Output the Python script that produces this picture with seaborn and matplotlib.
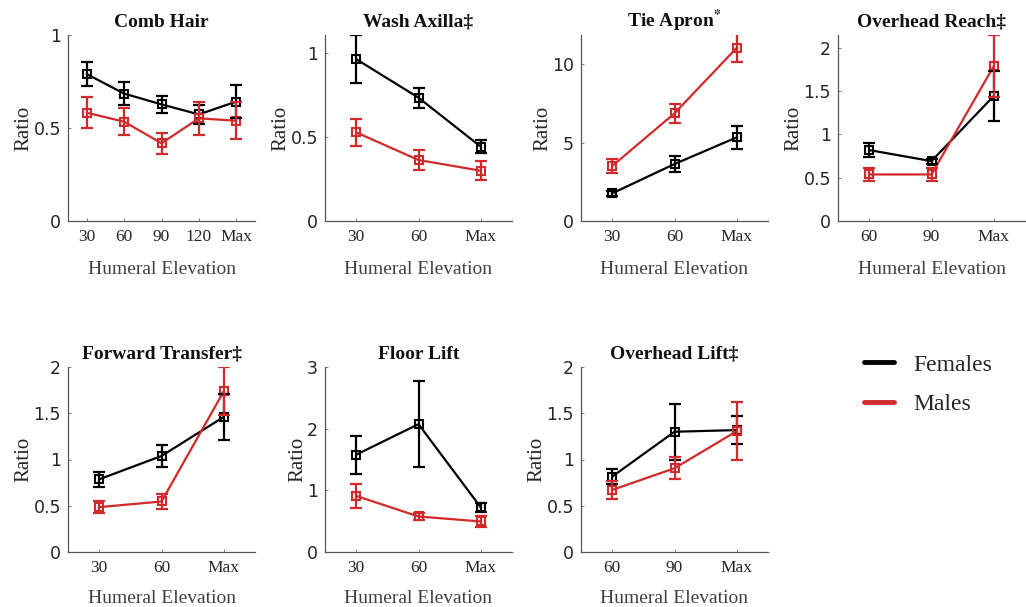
import numpy as np
import pandas as pd
import matplotlib
matplotlib.use("Agg")
import matplotlib.pyplot as plt
import seaborn as sns
from matplotlib.lines import Line2D

# ---------------- data ----------------
titles = ["Comb Hair", "Wash Axilla\u2021", r"Tie Apron$^{\mathbf{*}}$", "Overhead Reach\u2021",
          "Forward Transfer\u2021", "Floor Lift", "Overhead Lift\u2021"]

comb_labels = ["30", "60", "90", "120", "Max"]
comb_f = [0.79, 0.685, 0.627, 0.573, 0.642]
comb_f_err = [0.063, 0.06, 0.047, 0.05, 0.09]
comb_m = [0.582, 0.534, 0.418, 0.552, 0.539]
comb_m_err = [0.083, 0.073, 0.057, 0.09, 0.1]

wash_labels = ["30", "60", "Max"]
wash_f = [0.966, 0.736, 0.443]
wash_f_err = [0.144, 0.06, 0.04]
wash_m = [0.529, 0.364, 0.30]
wash_m_err = [0.08, 0.06, 0.057]

apron_labels = ["30", "60", "Max"]
apron_f = [1.76, 3.63, 5.33]
apron_f_err = [0.15, 0.53, 0.72]
apron_m = [3.50, 6.86, 11.04]
apron_m_err = [0.47, 0.6, 0.88]

oreach_labels = ["60", "90", "Max"]
oreach_f = [0.82, 0.692, 1.446]
oreach_f_err = [0.08, 0.03, 0.29]
oreach_m = [0.538, 0.538, 1.792]
oreach_m_err = [0.08, 0.07, 0.36]

ftrans_labels = ["30", "60", "Max"]
ftrans_f = [0.786, 1.038, 1.461]
ftrans_f_err = [0.08, 0.123, 0.25]
ftrans_m = [0.485, 0.546, 1.738]
ftrans_m_err = [0.062, 0.085, 0.26]

floor_labels = ["30", "60", "Max"]
floor_f = [1.578, 2.073, 0.722]
floor_f_err = [0.31, 0.70, 0.07]
floor_m = [0.91, 0.576, 0.495]
floor_m_err = [0.2, 0.05, 0.085]

olift_labels = ["60", "90", "Max"]
olift_f = [0.815, 1.30, 1.318]
olift_f_err = [0.08, 0.3, 0.15]
olift_m = [0.671, 0.905, 1.307]
olift_m_err = [0.1, 0.12, 0.31]

panels = [
    (comb_labels, comb_f, comb_f_err, comb_m, comb_m_err, 1.0, [0, 0.5, 1], ["0", "0.5", "1"]),
    (wash_labels, wash_f, wash_f_err, wash_m, wash_m_err, 1.11, [0, 0.5, 1], ["0", "0.5", "1"]),
    (apron_labels, apron_f, apron_f_err, apron_m, apron_m_err, 11.85, [0, 5, 10], ["0", "5", "10"]),
    (oreach_labels, oreach_f, oreach_f_err, oreach_m, oreach_m_err, 2.15,
     [0, 0.5, 1, 1.5, 2], ["0", "0.5", "1", "1.5", "2"]),
    (ftrans_labels, ftrans_f, ftrans_f_err, ftrans_m, ftrans_m_err, 2.0,
     [0, 0.5, 1, 1.5, 2], ["0", "0.5", "1", "1.5", "2"]),
    (floor_labels, floor_f, floor_f_err, floor_m, floor_m_err, 3.0, [0, 1, 2, 3], ["0", "1", "2", "3"]),
    (olift_labels, olift_f, olift_f_err, olift_m, olift_m_err, 2.0,
     [0, 0.5, 1, 1.5, 2], ["0", "0.5", "1", "1.5", "2"]),
]

groups = ["Females", "Males"]
colors = {"Females": "#000000", "Males": "#d02a2a"}

# ---------------- style ----------------
sns.set_theme(style="ticks")
plt.rcParams["font.family"] = ["Liberation Serif", "DejaVu Serif"]
plt.rcParams["mathtext.fontset"] = "stix"

W, H = 1026, 607
fig = plt.figure(figsize=(W / 100, H / 100), dpi=100)

col_left = [68, 325, 581, 838]
row_geom = [(35, 221), (367, 552)]
ax_w = 187

for i, (labels, f, fe, m, me, ytop, yt, ytl) in enumerate(panels):
    r, c = divmod(i, 4)
    top, bot = row_geom[r]
    ax = fig.add_axes([col_left[c] / W, 1 - bot / H, ax_w / W, (bot - top) / H])
    n = len(labels)
    pos = np.arange(1, n + 1)
    df = pd.DataFrame({
        "pos": np.concatenate([pos, pos]),
        "ratio": np.array(f + m, dtype=float),
        "sex": ["Females"] * n + ["Males"] * n,
    })
    sns.lineplot(data=df, x="pos", y="ratio", hue="sex", hue_order=["Females", "Males"],
                 palette=colors, marker="s", markersize=6, markerfacecolor="none",
                 markeredgewidth=1.5, linewidth=1.6, legend=False, ax=ax, zorder=3)
    for ln in ax.lines:
        ln.set_markeredgecolor(ln.get_color())
    ax.errorbar(pos, f, yerr=fe, fmt="none", ecolor=colors["Females"], elinewidth=1.6,
                capsize=4, capthick=1.6, zorder=4)
    ax.errorbar(pos, m, yerr=me, fmt="none", ecolor=colors["Males"], elinewidth=1.6,
                capsize=4, capthick=1.6, zorder=4)

    ax.set_xlim(0.5, n + 0.5)
    ax.set_ylim(0, ytop)
    ax.set_xticks(pos)
    ax.set_xticklabels(labels, fontsize=12.5, color="#262626")
    ax.set_yticks(yt)
    ax.set_yticklabels(ytl, fontsize=12.5, color="#262626", family="DejaVu Sans")
    ax.tick_params(direction="in", length=2.5, width=0.6, color="#666666", pad=5)
    ax.tick_params(axis="x", pad=6)
    ax.set_xlabel("Humeral Elevation", fontsize=14, color="#404040",
                  labelpad=11.5 if r == 0 else 10)
    ax.set_ylabel("Ratio", fontsize=15, color="#262626", labelpad=0)
    ax.set_title(titles[i], fontsize=14, fontweight="bold", color="#111111", pad=6)
    for s in ["top", "right"]:
        ax.spines[s].set_visible(False)
    for s in ["left", "bottom"]:
        ax.spines[s].set_color("#555555")
        ax.spines[s].set_linewidth(0.9)

handles = [Line2D([0], [0], color=colors[g], lw=3.5) for g in groups]
fig.legend(handles, groups, loc="upper left", bbox_to_anchor=(864 / W, 1 - 354 / H),
           frameon=False, fontsize=17, handlelength=1.25, handletextpad=0.85,
           labelspacing=0.75, borderpad=0, borderaxespad=0)

fig.savefig("out.png", dpi=100)
